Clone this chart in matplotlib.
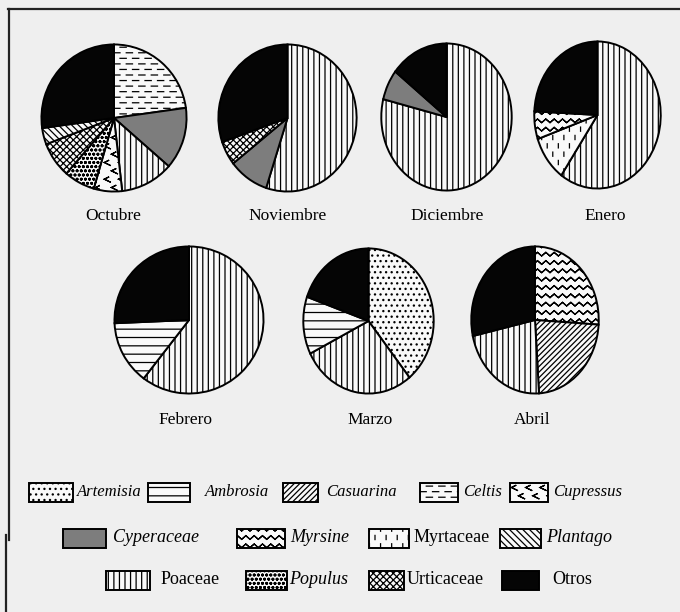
import warnings
warnings.filterwarnings('ignore')
import numpy as np
import matplotlib
matplotlib.use('Agg')
import matplotlib.pyplot as plt
import matplotlib.hatch as mhatch
from matplotlib.path import Path
from matplotlib.patches import Rectangle
from matplotlib.lines import Line2D

# ---------------- data ----------------
months = ['Octubre', 'Noviembre', 'Diciembre', 'Enero', 'Febrero', 'Marzo', 'Abril']

oct_taxa = ['Celtis', 'Cyperaceae', 'Poaceae', 'Cupressus', 'Populus', 'Urticaceae', 'Plantago', 'Otros']
oct_vals = [22.8, 13.6, 11.8, 6.3, 6.9, 7.8, 3.6, 27.2]
nov_taxa = ['Poaceae', 'Cyperaceae', 'Urticaceae', 'Otros']
nov_vals = [55.0, 9.4, 5.3, 30.3]
dic_taxa = ['Poaceae', 'Cyperaceae', 'Otros']
dic_vals = [78.9, 6.7, 14.4]
ene_taxa = ['Poaceae', 'Myrtaceae', 'Myrsine', 'Otros']
ene_vals = [59.7, 10.0, 6.1, 24.2]
feb_taxa = ['Poaceae', 'Ambrosia', 'Otros']
feb_vals = [60.4, 13.9, 25.7]
mar_taxa = ['Artemisia', 'Poaceae', 'Ambrosia', 'Otros']
mar_vals = [39.2, 28.4, 12.8, 19.6]
abr_taxa = ['Myrsine', 'Casuarina', 'Poaceae', 'Otros']
abr_vals = [26.0, 23.0, 22.5, 28.5]

legend_rows = [
    ['Artemisia', 'Ambrosia', 'Casuarina', 'Celtis', 'Cupressus'],
    ['Cyperaceae', 'Myrsine', 'Myrtaceae', 'Plantago'],
    ['Poaceae', 'Populus', 'Urticaceae', 'Otros'],
]
upright = {'Poaceae', 'Urticaceae', 'Otros', 'Myrtaceae'}


# ---------------- custom hatch patterns ----------------
class ZigZagHatch(mhatch.HatchPatternBase):
    def __init__(self, hatch, density):
        self.num_lines = int(hatch.count('~') * density)
        self.npts = 25
        self.per = 2 * self.npts - 1
        self.num_vertices = self.num_lines * self.per

    def set_vertices_and_codes(self, vertices, codes):
        if self.num_lines == 0:
            return
        xs = np.linspace(0, 1, self.npts)
        amp = 0.22 / self.num_lines
        offs = np.where(np.arange(self.npts) % 2 == 0, -amp, amp)
        for i in range(self.num_lines):
            y0 = (i + 0.5) / self.num_lines
            fxv = np.concatenate([xs, xs[-2::-1]])
            fyv = np.concatenate([y0 + offs, (y0 + offs)[-2::-1]])
            s = i * self.per
            vertices[s:s + self.per, 0] = fxv
            vertices[s:s + self.per, 1] = fyv
            codes[s] = Path.MOVETO
            codes[s + 1:s + self.per] = Path.LINETO


class DashHatch(mhatch.HatchPatternBase):
    def __init__(self, hatch, density):
        self.num_rows = int(hatch.count('_') * density)
        self.k = 8
        self.num_vertices = self.num_rows * self.k * 2

    def set_vertices_and_codes(self, vertices, codes):
        if self.num_rows == 0:
            return
        idx = 0
        w = 1.0 / self.k
        for r in range(self.num_rows):
            y = (r + 0.5) / self.num_rows
            off = 0.5 * w if r % 2 else 0.0
            for j in range(self.k):
                x0 = j * w + off + 0.1 * w
                x1 = min(x0 + 0.5 * w, 1.0)
                vertices[idx] = (x0, y)
                vertices[idx + 1] = (x1, y)
                codes[idx] = Path.MOVETO
                codes[idx + 1] = Path.LINETO
                idx += 2


class TickHatch(mhatch.HatchPatternBase):
    def __init__(self, hatch, density):
        self.num_rows = int(hatch.count('<') * density)
        self.k = 7
        self.num_vertices = self.num_rows * self.k * 5

    def set_vertices_and_codes(self, vertices, codes):
        if self.num_rows == 0:
            return
        idx = 0
        w = 1.0 / self.k
        h = 1.0 / self.num_rows
        for r in range(self.num_rows):
            y = (r + 0.5) * h
            off = 0.5 * w if r % 2 else 0.0
            for j in range(self.k):
                x = min((j + 0.3) * w + off, 1.0 - 0.3 * w)
                pts = [(x + 0.3 * w, y + 0.25 * h), (x, y), (x + 0.3 * w, y - 0.25 * h),
                       (x, y), (x + 0.3 * w, y + 0.25 * h)]
                for p_i, p in enumerate(pts):
                    vertices[idx + p_i] = p
                codes[idx] = Path.MOVETO
                codes[idx + 1:idx + 5] = Path.LINETO
                idx += 5


class VDashHatch(mhatch.HatchPatternBase):
    def __init__(self, hatch, density):
        self.num_rows = int(hatch.count(',') * density)
        self.k = 9
        self.num_vertices = self.num_rows * self.k * 2

    def set_vertices_and_codes(self, vertices, codes):
        if self.num_rows == 0:
            return
        idx = 0
        w = 1.0 / self.k
        h = 1.0 / self.num_rows
        for r in range(self.num_rows):
            y = (r + 0.5) * h
            off = 0.5 * w if r % 2 else 0.0
            for j in range(self.k):
                x = (j + 0.25) * w + off
                vertices[idx] = (x, y - 0.25 * h)
                vertices[idx + 1] = (x, y + 0.25 * h)
                codes[idx] = Path.MOVETO
                codes[idx + 1] = Path.LINETO
                idx += 2


mhatch._hatch_types.extend([ZigZagHatch, DashHatch, TickHatch, VDashHatch])

# ---------------- styles ----------------
WHITE = '#f9f9f9'
styles = {
    'Artemisia':  dict(fc=WHITE, hatch='...'),
    'Ambrosia':   dict(fc=WHITE, hatch='--'),
    'Casuarina':  dict(fc=WHITE, hatch='//////'),
    'Celtis':     dict(fc=WHITE, hatch='___'),
    'Cupressus':  dict(fc=WHITE, hatch='<<'),
    'Cyperaceae': dict(fc='#7d7d7d', hatch=None),
    'Myrsine':    dict(fc=WHITE, hatch='~~'),
    'Myrtaceae':  dict(fc=WHITE, hatch=',,'),
    'Plantago':   dict(fc=WHITE, hatch='\\\\\\\\\\'),
    'Poaceae':    dict(fc=WHITE, hatch='|||'),
    'Populus':    dict(fc=WHITE, hatch='oooo'),
    'Urticaceae': dict(fc=WHITE, hatch='xxxxx'),
    'Otros':      dict(fc='#050505', hatch=None),
}

plt.rcParams['hatch.color'] = 'black'
plt.rcParams['hatch.linewidth'] = 0.9
plt.rcParams['font.family'] = ['Liberation Serif', 'DejaVu Serif']

W, H = 680, 612
fig = plt.figure(figsize=(W / 100, H / 100), dpi=100)
fig.patch.set_facecolor('#efefef')


def fx(x):
    return x / W


def fy(y):
    return 1 - y / H


# pie boxes in pixel coords (x0, x1, y0, y1) and label positions
pie_data = [
    (oct_taxa, oct_vals, (40, 188, 43, 193), (113, 216)),
    (nov_taxa, nov_vals, (217, 358, 43, 193), (288, 216)),
    (dic_taxa, dic_vals, (380, 513, 42, 192), (447, 216)),
    (ene_taxa, ene_vals, (533, 662, 40, 190), (605, 216)),
    (feb_taxa, feb_vals, (113, 265, 245, 395), (185, 420)),
    (mar_taxa, mar_vals, (302, 435, 247, 395), (370, 420)),
    (abr_taxa, abr_vals, (470, 600, 245, 395), (532, 420)),
]

for month, (taxa, vals, box, lab) in zip(months, pie_data):
    x0, x1, y0, y1 = box
    ax = fig.add_axes([fx(x0), fy(y1), (x1 - x0) / W, (y1 - y0) / H])
    wedges, _ = ax.pie(vals, startangle=90, counterclock=False, radius=1,
                       wedgeprops=dict(edgecolor='black', linewidth=1.4))
    for w_, t in zip(wedges, taxa):
        st = styles[t]
        w_.set_facecolor(st['fc'])
        if st['hatch']:
            w_.set_hatch(st['hatch'])
    ax.set_xlim(-1.02, 1.02)
    ax.set_ylim(-1.02, 1.02)
    ax.set_aspect('auto')
    ax.axis('off')
    fig.text(fx(lab[0]), fy(lab[1]), month, ha='center', va='center', fontsize=12.5)

# legend (pixel layout: box x0, box x1, text x)
legend_layout = [
    (492, 12, [(29, 73, 77), (148, 190, 205), (283, 318, 326), (420, 458, 463), (510, 548, 553)]),
    (538, 13, [(63, 106, 113), (237, 285, 290), (369, 409, 414), (500, 541, 546)]),
    (580, 13, [(106, 150, 161), (246, 287, 289), (369, 404, 407), (502, 539, 552)]),
]
bh = 19
for row, (yc, fs, slots) in zip(legend_rows, legend_layout):
    for name, (bx0, bx1, tx) in zip(row, slots):
        st = styles[name]
        r = Rectangle((fx(bx0), fy(yc + bh / 2)), (bx1 - bx0) / W, bh / H,
                      transform=fig.transFigure, facecolor=st['fc'],
                      edgecolor='black', linewidth=1.4, hatch=st['hatch'])
        fig.add_artist(r)
        fig.text(fx(tx), fy(yc), name, ha='left', va='center', fontsize=fs,
                 style='normal' if name in upright else 'italic')

# scan frame lines
fig.add_artist(Line2D([fx(8), fx(680)], [fy(9), fy(9)], transform=fig.transFigure,
                      color='#222222', linewidth=1.6))
fig.add_artist(Line2D([fx(9), fx(9)], [fy(9), fy(540)], transform=fig.transFigure,
                      color='#222222', linewidth=1.6))
fig.add_artist(Line2D([fx(6), fx(6)], [fy(535), fy(612)], transform=fig.transFigure,
                      color='#222222', linewidth=1.6))

fig.savefig('out.png', dpi=100, facecolor=fig.get_facecolor())
